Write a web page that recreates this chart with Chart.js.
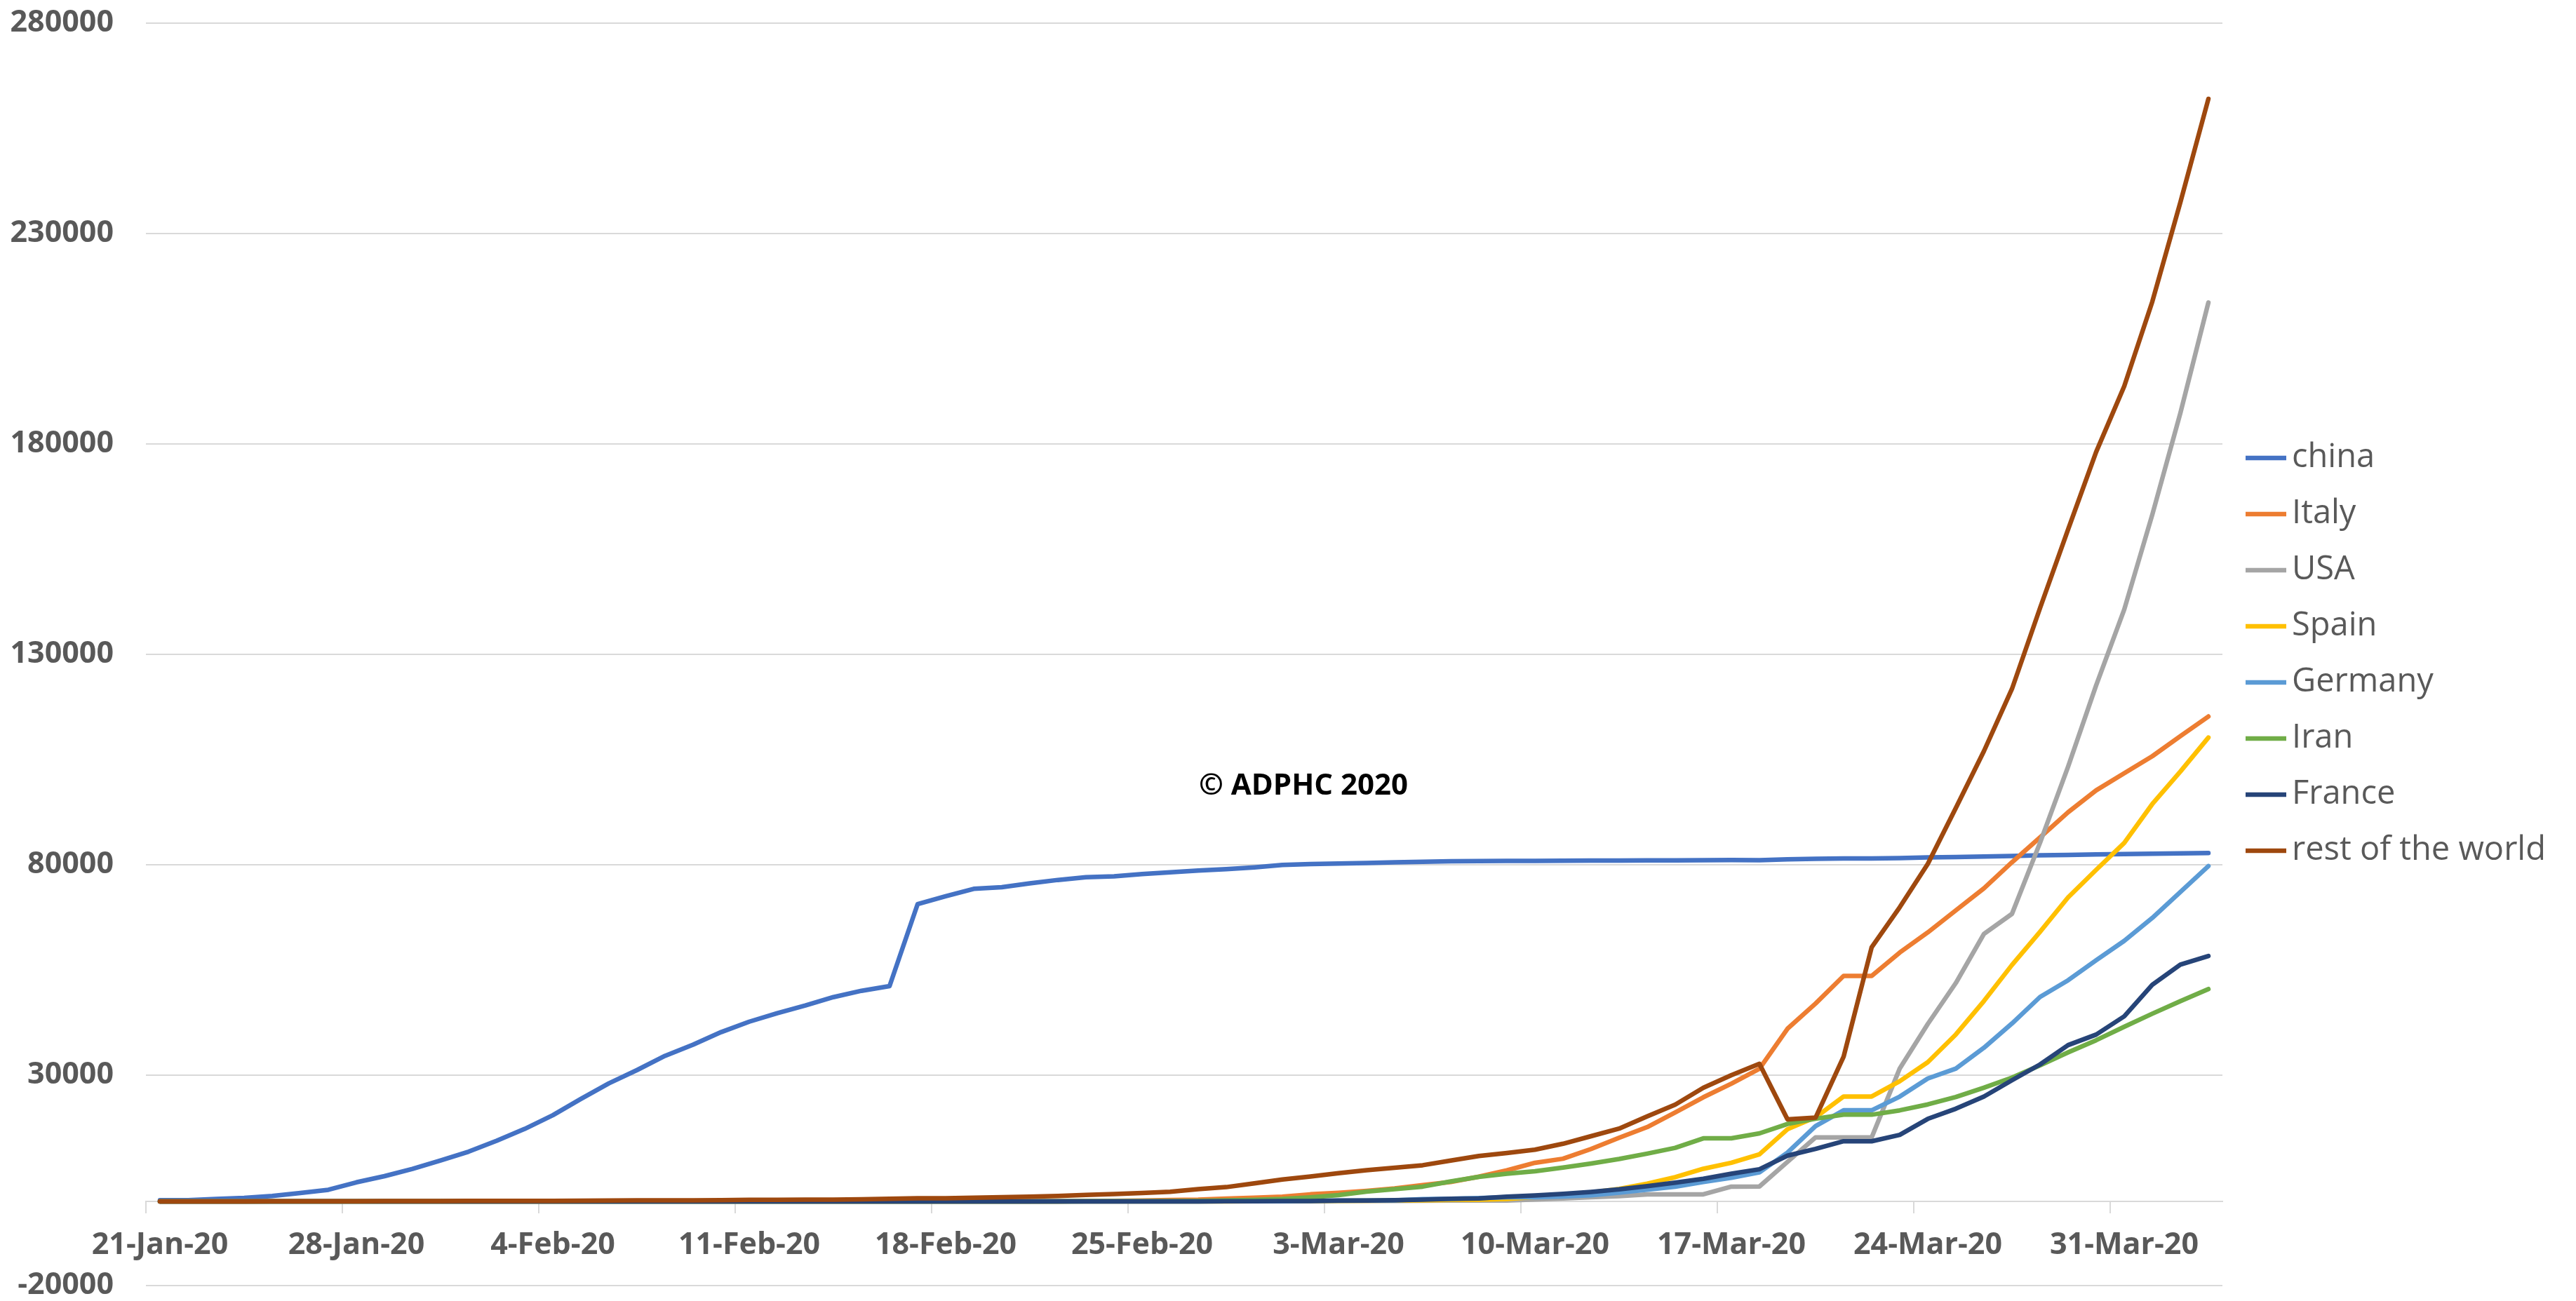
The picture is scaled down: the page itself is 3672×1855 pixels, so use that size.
<!DOCTYPE html>
<html>
<head>
<meta charset="utf-8">
<title>Confirmed COVID-19 cases by country</title>
<script src="https://cdn.jsdelivr.net/npm/chart.js@4.4.1/dist/chart.umd.min.js"></script>
<style>
  html, body { margin: 0; padding: 0; background: #ffffff; }
  canvas { display: block; background: #ffffff; }
</style>
</head>
<body>
<canvas id="chart" width="3672" height="1855" style="width:3672px;height:1855px"></canvas>
<script>
// Daily report dates (category axis)
const dates = [
  '21-Jan-20','22-Jan-20','23-Jan-20','24-Jan-20','25-Jan-20','26-Jan-20','27-Jan-20','28-Jan-20','29-Jan-20','30-Jan-20','31-Jan-20',
  '1-Feb-20','2-Feb-20','3-Feb-20','4-Feb-20','5-Feb-20','6-Feb-20','7-Feb-20','8-Feb-20','9-Feb-20','10-Feb-20',
  '11-Feb-20','12-Feb-20','13-Feb-20','14-Feb-20','15-Feb-20','16-Feb-20','17-Feb-20','18-Feb-20','19-Feb-20','20-Feb-20',
  '21-Feb-20','22-Feb-20','23-Feb-20','24-Feb-20','25-Feb-20','26-Feb-20','27-Feb-20','28-Feb-20','29-Feb-20',
  '1-Mar-20','2-Mar-20','3-Mar-20','4-Mar-20','5-Mar-20','6-Mar-20','7-Mar-20','8-Mar-20','9-Mar-20','10-Mar-20',
  '11-Mar-20','12-Mar-20','13-Mar-20','14-Mar-20','15-Mar-20','16-Mar-20','17-Mar-20','18-Mar-20','19-Mar-20','20-Mar-20',
  '21-Mar-20','22-Mar-20','23-Mar-20','24-Mar-20','25-Mar-20','26-Mar-20','27-Mar-20','28-Mar-20','29-Mar-20','30-Mar-20','31-Mar-20',
  '1-Apr-20','2-Apr-20','3-Apr-20'
];

// Cumulative confirmed cases, one value per date
const china = [
  278, 310, 571, 830, 1297, 1985, 2761, 4537, 5997, 7736,
  9720, 11821, 14411, 17238, 20471, 24363, 28060, 31211, 34598, 37251,
  40235, 42708, 44730, 46550, 48548, 50054, 51174, 70635, 72528, 74280,
  74675, 75569, 76392, 77042, 77262, 77780, 78191, 78630, 78961, 79394,
  79968, 80174, 80304, 80422, 80565, 80711, 80813, 80859, 80904, 80924,
  80955, 80981, 80991, 81021, 81048, 81077, 81116, 81102, 81300, 81416,
  81498, 81498, 81601, 81747, 81846, 81960, 82078, 82230, 82341, 82447,
  82545, 82631, 82724, 82802
];
const italy = [
  0, 0, 0, 0, 0, 0, 0, 0, 0, 0,
  0, 2, 2, 2, 2, 2, 2, 3, 3, 3,
  3, 3, 3, 3, 3, 3, 3, 3, 3, 3,
  3, 3, 9, 76, 124, 229, 322, 400, 650, 888,
  1128, 1689, 2036, 2502, 3089, 3858, 4636, 5883, 7375, 9172,
  10149, 12462, 15113, 17660, 21157, 24747, 27980, 31506, 41035, 47021,
  53578, 53578, 59138, 63927, 69176, 74386, 80589, 86498, 92472, 97689,
  101739, 105792, 110574, 115242
];
const usa = [
  1, 1, 1, 2, 2, 5, 5, 5, 5, 6,
  6, 7, 8, 11, 11, 11, 12, 12, 12, 12,
  12, 13, 13, 14, 15, 15, 15, 15, 15, 15,
  15, 15, 35, 35, 35, 53, 53, 59, 60, 62,
  62, 62, 64, 108, 129, 148, 213, 213, 213, 472,
  696, 987, 1264, 1678, 1678, 1678, 3503, 3536, 9400, 15219,
  15219, 15219, 31573, 42164, 51914, 63570, 68334, 85228, 103321, 122653,
  140640, 163199, 187302, 213600
];
const spain = [
  0, 0, 0, 0, 0, 0, 0, 0, 0, 0,
  0, 1, 1, 1, 1, 1, 1, 1, 1, 1,
  2, 2, 2, 2, 2, 2, 2, 2, 2, 2,
  2, 2, 2, 2, 2, 2, 2, 12, 12, 32,
  45, 45, 114, 151, 198, 257, 374, 430, 589, 1024,
  1639, 2140, 2965, 4231, 5753, 7753, 9191, 11178, 17147, 19980,
  24926, 24926, 28572, 33089, 39673, 47610, 56188, 64059, 72248, 78797,
  85195, 94417, 102136, 110238
];
const germany = [
  0, 0, 0, 0, 0, 0, 0, 1, 4, 4,
  5, 7, 10, 10, 12, 12, 12, 13, 13, 14,
  14, 16, 16, 16, 16, 16, 16, 16, 16, 16,
  16, 16, 16, 16, 16, 16, 16, 18, 26, 48,
  57, 129, 157, 196, 262, 534, 639, 795, 1000, 1000,
  1150, 1450, 2100, 2800, 3500, 4600, 5600, 6900, 11600, 17900,
  21650, 21650, 24900, 29200, 31554, 36508, 42288, 48582, 52547, 57298,
  61913, 67366, 73522, 79696
];
const iran = [
  0, 0, 0, 0, 0, 0, 0, 0, 0, 0,
  0, 0, 0, 0, 0, 0, 0, 0, 0, 0,
  0, 0, 0, 0, 0, 0, 0, 0, 0, 0,
  2, 5, 18, 28, 43, 61, 95, 141, 245, 388,
  593, 978, 1501, 2336, 2922, 3513, 4747, 5823, 6566, 7161,
  8042, 9000, 10075, 11364, 12729, 14991, 14991, 16169, 18407, 19644,
  20610, 20610, 21638, 23049, 24811, 27017, 29406, 32332, 35408, 38309,
  41495, 44605, 47593, 50468
];
const france = [
  0, 0, 0, 0, 3, 3, 3, 4, 4, 5,
  5, 6, 6, 6, 6, 6, 6, 6, 11, 11,
  11, 11, 11, 11, 11, 12, 12, 12, 12, 12,
  12, 12, 12, 12, 12, 12, 14, 18, 38, 57,
  100, 100, 191, 212, 282, 420, 613, 706, 1116, 1402,
  1774, 2269, 2860, 3640, 4469, 5380, 6573, 7652, 10871, 12475,
  14296, 14296, 15821, 19615, 22025, 24920, 28786, 32542, 37145, 39642,
  43977, 51477, 56261, 58327
];
const restOfWorld = [
  4, 6, 10, 18, 28, 38, 45, 55, 64, 80,
  95, 110, 120, 135, 145, 165, 190, 250, 255, 265,
  280, 370, 380, 420, 430, 480, 640, 750, 760, 880,
  1020, 1130, 1300, 1550, 1750, 2000, 2300, 2900, 3400, 4300,
  5200, 5900, 6700, 7400, 8000, 8600, 9700, 10800, 11500, 12300,
  13700, 15500, 17300, 20200, 23000, 27000, 30000, 32700, 19500, 19900,
  34400, 60400, 69900, 80200, 93500, 107000, 121800, 141000, 159700, 178100,
  193700, 213800, 237400, 262000
];

const seriesNames  = ['china', 'Italy', 'USA', 'Spain', 'Germany', 'Iran', 'France', 'rest of the world'];
const seriesValues = [china, italy, usa, spain, germany, iran, france, restOfWorld];
const seriesColors = ['#4472C4', '#ED7D31', '#A5A5A5', '#FFC000', '#5B9BD5', '#70AD47', '#264478', '#9E480E'];

// Value axis range and spacing
const yMin = -20000;
const yMax = 280000;
const yStep = 50000;
// A date label is printed on every seventh day
const labelEvery = 7;

const FONT = '"Open Sans", "Noto Sans", "DejaVu Sans", sans-serif';
const TEXT_GREY = '#595959';
const GRID_GREY = '#d9d9d9';
const LEGEND_FONT_SIZE = 47;
const LEGEND_SWATCH = 58;   // length of the legend line sample
const LEGEND_TEXT_GAP = 8;  // space between the sample line and its name

// Plot area edges on the canvas
const plotLeft = 208;
const plotRight = 3168;

// Copyright note drawn inside the plot, anchored to a date index / case value
const watermarkPlugin = {
  id: 'watermark',
  afterDatasetsDraw(chart, args, opts) {
    const { ctx, scales } = chart;
    const x = scales.x.getPixelForValue(opts.index);
    const y = scales.y.getPixelForValue(opts.value);
    ctx.save();
    ctx.font = opts.font;
    ctx.fillStyle = opts.color;
    ctx.textAlign = 'center';
    ctx.textBaseline = 'middle';
    ctx.fillText(opts.text, x, y);
    ctx.restore();
  }
};

// Legend names set tight against their sample lines (Chart.js lays out the boxes)
const legendTextPlugin = {
  id: 'legendText',
  afterDraw(chart) {
    const legend = chart.legend;
    if (!legend || !legend.legendHitBoxes) return;
    const { ctx } = chart;
    ctx.save();
    ctx.font = LEGEND_FONT_SIZE + 'px ' + FONT;
    ctx.fillStyle = TEXT_GREY;
    ctx.textAlign = 'left';
    ctx.textBaseline = 'middle';
    legend.legendItems.forEach((item, i) => {
      const hb = legend.legendHitBoxes[i];
      ctx.fillText(item.text, hb.left + LEGEND_SWATCH + LEGEND_TEXT_GAP, hb.top + hb.height / 2);
    });
    ctx.restore();
  }
};

const datasets = seriesNames.map((name, k) => ({
  label: name,
  data: seriesValues[k],
  borderColor: seriesColors[k],
  backgroundColor: seriesColors[k],
  borderWidth: 6.5,
  pointRadius: 0,
  pointHoverRadius: 0,
  tension: 0,
  fill: false,
  borderCapStyle: 'round',
  borderJoinStyle: 'round',
  // later series are painted above earlier ones
  order: seriesNames.length - k
}));

const weeklyTick = (c) => (c.type === 'tick' && c.index % labelEvery === 0) ? GRID_GREY : 'rgba(0,0,0,0)';

const config = {
  type: 'line',
  data: { labels: dates, datasets },
  plugins: [watermarkPlugin, legendTextPlugin],
  options: {
    responsive: false,
    devicePixelRatio: 1,
    animation: false,
    events: [],
    layout: { padding: { left: 0, right: 24, top: 33, bottom: 22 } },
    plugins: {
      legend: {
        position: 'right',
        align: 'center',
        labels: {
          usePointStyle: true,
          pointStyle: 'line',
          pointStyleWidth: LEGEND_SWATCH,
          padding: 33,
          color: 'rgba(0,0,0,0)',
          font: { family: FONT, size: LEGEND_FONT_SIZE },
          sort: (a, b) => a.datasetIndex - b.datasetIndex
        }
      },
      tooltip: { enabled: false },
      title: { display: false },
      watermark: {
        text: '\u00A9 ADPHC 2020',
        index: 40.75,
        value: 98700,
        font: 'bold 42px ' + FONT,
        color: '#000000'
      }
    },
    scales: {
      x: {
        type: 'category',
        offset: true,
        position: { y: 0 },
        grid: {
          offset: true,
          drawOnChartArea: false,
          drawTicks: true,
          tickLength: 16,
          color: weeklyTick,
          tickColor: weeklyTick,
          lineWidth: 2,
          tickWidth: 2
        },
        border: { display: true, color: GRID_GREY, width: 2 },
        ticks: {
          autoSkip: false,
          maxRotation: 0,
          minRotation: 0,
          padding: 21,
          color: TEXT_GREY,
          font: { family: FONT, size: 43, weight: 'bold' },
          callback: (value, index) => (index % labelEvery === 0 ? dates[index] : '')
        },
        afterFit(scale) {
          scale.height = 0;
          scale.paddingLeft = 0;
          scale.paddingRight = 0;
        }
      },
      y: {
        min: yMin,
        max: yMax,
        ticks: {
          stepSize: yStep,
          padding: 46,
          color: TEXT_GREY,
          font: { family: FONT, size: 43, weight: 'bold' },
          callback: (value) => String(value)
        },
        grid: { color: GRID_GREY, lineWidth: 2, drawTicks: false },
        border: { display: false },
        afterFit(scale) {
          scale.width = plotLeft;
          scale.paddingTop = 0;
          scale.paddingBottom = 0;
        }
      }
    }
  }
};

const chart = new Chart(document.getElementById('chart'), config);

// Keep the plot's right edge fixed whatever width the legend text measures
const drift = chart.chartArea.right - plotRight;
if (Math.abs(drift) > 0.5) {
  chart.options.layout.padding.right += drift;
  chart.update();
}
</script>
</body>
</html>
